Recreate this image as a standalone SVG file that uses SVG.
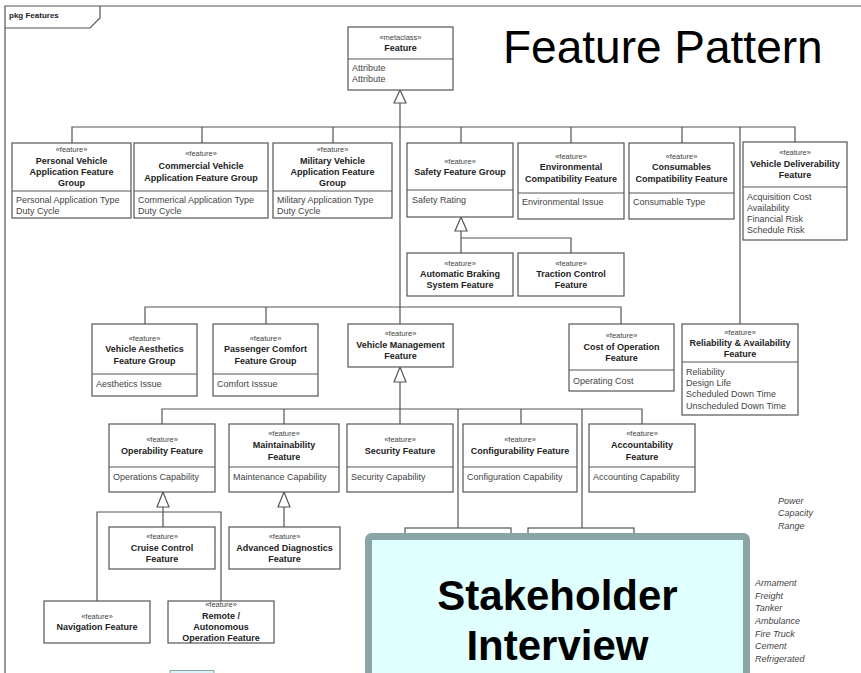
<svg xmlns="http://www.w3.org/2000/svg" width="861" height="673" viewBox="0 0 861 673">
<style>
text{font-family:"Liberation Sans",Arial,sans-serif;fill:#333}
.st{font-size:7.5px;text-anchor:middle;fill:#444}
.ti{font-size:9px;font-weight:bold;text-anchor:middle;fill:#222}
.at{font-size:9px;fill:#444}
.bx{fill:#fff;stroke:#555;stroke-width:1.2}
.dv{stroke:#555;stroke-width:1}
.cn{fill:none;stroke:#555;stroke-width:1.2}
.tri{fill:#fff;stroke:#555;stroke-width:1.2}
.it{font-size:9px;font-style:italic;fill:#444}
</style>
<rect width="861" height="673" fill="#fff"/>
<g id="frame">
<path class="cn" d="M5,673 V6 H861"/>
<path class="cn" d="M5,28 H90 L100,18 V6"/>
<text x="9" y="18" style="font-size:8px;font-weight:bold;fill:#222">pkg Features</text>
</g>
<text x="503" y="63" style="font-size:46px;fill:#000">Feature Pattern</text>
<g id="connectors">
<polygon class="tri" points="400,90 394,103 406,103"/>
<path class="cn" d="M400,103 V324"/>
<path class="cn" d="M72,143 V127 H795 V142 M202,127 V143 M333,127 V143 M461,127 V143 M571,127 V143 M682,127 V143 M740,127 V324"/>
<polygon class="tri" points="461,217 455,231 467,231"/>
<path class="cn" d="M461,231 V253 M461,238 H571 V253"/>
<path class="cn" d="M145,324 V307 H621 V324 M266,307 V324"/>
<polygon class="tri" points="400,367 394,382 406,382"/>
<path class="cn" d="M400,382 V424"/>
<path class="cn" d="M162,424 V409 H642 V424 M284,409 V424 M521,409 V424 M458,409 V528 M582,409 V528"/>
<polygon class="tri" points="163,492 157,507 169,507"/>
<path class="cn" d="M163,507 V527 M97,601 V512 H221 V601"/>
<polygon class="tri" points="284,492 278,507 290,507"/>
<path class="cn" d="M284,507 V527"/>
</g>
<g id="n-feature">
<rect class="bx" x="348" y="27" width="105" height="63"/>
<line class="dv" x1="348" y1="59" x2="453" y2="59"/>
<text class="st" x="400.5" y="40">«metaclass»</text>
<text class="ti" x="400.5" y="51">Feature</text>
<text class="at" x="352" y="71">Attribute</text>
<text class="at" x="352" y="82">Attribute</text>
</g>
<g id="n-personal">
<rect class="bx" x="12" y="143" width="119" height="75"/>
<line class="dv" x1="12" y1="191" x2="131" y2="191"/>
<text class="st" x="71.5" y="151.5">«feature»</text>
<text class="ti" x="71.5" y="164">Personal Vehicle</text>
<text class="ti" x="71.5" y="175">Application Feature</text>
<text class="ti" x="71.5" y="186">Group</text>
<text class="at" x="16" y="203">Personal Application Type</text>
<text class="at" x="16" y="214">Duty Cycle</text>
</g>
<g id="n-commercial">
<rect class="bx" x="134" y="143" width="134" height="75"/>
<line class="dv" x1="134" y1="191" x2="268" y2="191"/>
<text class="st" x="201" y="155.5">«feature»</text>
<text class="ti" x="201" y="169">Commercial Vehicle</text>
<text class="ti" x="201" y="181">Application Feature Group</text>
<text class="at" x="138" y="203">Commerical Application Type</text>
<text class="at" x="138" y="214">Duty Cycle</text>
</g>
<g id="n-military">
<rect class="bx" x="273" y="143" width="119" height="75"/>
<line class="dv" x1="273" y1="191" x2="392" y2="191"/>
<text class="st" x="332.5" y="151.5">«feature»</text>
<text class="ti" x="332.5" y="164">Military Vehicle</text>
<text class="ti" x="332.5" y="175">Application Feature</text>
<text class="ti" x="332.5" y="186">Group</text>
<text class="at" x="277" y="203">Military Application Type</text>
<text class="at" x="277" y="214">Duty Cycle</text>
</g>
<g id="n-safety">
<rect class="bx" x="407" y="143" width="106" height="74"/>
<line class="dv" x1="407" y1="190" x2="513" y2="190"/>
<text class="st" x="460" y="163.5">«feature»</text>
<text class="ti" x="460" y="175">Safety Feature Group</text>
<text class="at" x="412" y="203">Safety Rating</text>
</g>
<g id="n-environmental">
<rect class="bx" x="518" y="143" width="106" height="76"/>
<line class="dv" x1="518" y1="193" x2="624" y2="193"/>
<text class="st" x="571" y="158.5">«feature»</text>
<text class="ti" x="571" y="170">Environmental</text>
<text class="ti" x="571" y="182">Compatibility Feature</text>
<text class="at" x="522" y="205">Environmental Issue</text>
</g>
<g id="n-consumables">
<rect class="bx" x="629" y="143" width="105" height="76"/>
<line class="dv" x1="629" y1="193" x2="734" y2="193"/>
<text class="st" x="681.5" y="158.5">«feature»</text>
<text class="ti" x="681.5" y="170">Consumables</text>
<text class="ti" x="681.5" y="182">Compatibility Feature</text>
<text class="at" x="633" y="205">Consumable Type</text>
</g>
<g id="n-deliverability">
<rect class="bx" x="743" y="142" width="104" height="98"/>
<line class="dv" x1="743" y1="187" x2="847" y2="187"/>
<text class="st" x="795" y="154.5">«feature»</text>
<text class="ti" x="795" y="167">Vehicle Deliverability</text>
<text class="ti" x="795" y="178">Feature</text>
<text class="at" x="747" y="200">Acquisition Cost</text>
<text class="at" x="747" y="211">Availability</text>
<text class="at" x="747" y="222">Financial Risk</text>
<text class="at" x="747" y="233">Schedule Risk</text>
</g>
<g id="n-braking">
<rect class="bx" x="407" y="253" width="106" height="43"/>
<text class="st" x="460" y="265.5">«feature»</text>
<text class="ti" x="460" y="277">Automatic Braking</text>
<text class="ti" x="460" y="288">System Feature</text>
</g>
<g id="n-traction">
<rect class="bx" x="518" y="253" width="106" height="43"/>
<text class="st" x="571" y="265.5">«feature»</text>
<text class="ti" x="571" y="277">Traction Control</text>
<text class="ti" x="571" y="288">Feature</text>
</g>
<g id="n-aesthetics">
<rect class="bx" x="92" y="324" width="105" height="72"/>
<line class="dv" x1="92" y1="374" x2="197" y2="374"/>
<text class="st" x="144.5" y="340.5">«feature»</text>
<text class="ti" x="144.5" y="352">Vehicle Aesthetics</text>
<text class="ti" x="144.5" y="364">Feature Group</text>
<text class="at" x="96" y="387">Aesthetics Issue</text>
</g>
<g id="n-comfort">
<rect class="bx" x="213" y="324" width="105" height="72"/>
<line class="dv" x1="213" y1="374" x2="318" y2="374"/>
<text class="st" x="265.5" y="340.5">«feature»</text>
<text class="ti" x="265.5" y="352">Passenger Comfort</text>
<text class="ti" x="265.5" y="364">Feature Group</text>
<text class="at" x="217" y="387">Comfort Isssue</text>
</g>
<g id="n-management">
<rect class="bx" x="348" y="324" width="105" height="43"/>
<text class="st" x="400.5" y="335.5">«feature»</text>
<text class="ti" x="400.5" y="348">Vehicle Management</text>
<text class="ti" x="400.5" y="359">Feature</text>
</g>
<g id="n-cost">
<rect class="bx" x="569" y="324" width="105" height="67"/>
<line class="dv" x1="569" y1="370" x2="674" y2="370"/>
<text class="st" x="621.5" y="337.5">«feature»</text>
<text class="ti" x="621.5" y="350">Cost of Operation</text>
<text class="ti" x="621.5" y="361">Feature</text>
<text class="at" x="573" y="384">Operating Cost</text>
</g>
<g id="n-reliability">
<rect class="bx" x="682" y="324" width="116" height="91"/>
<line class="dv" x1="682" y1="362" x2="798" y2="362"/>
<text class="st" x="740" y="334.5">«feature»</text>
<text class="ti" x="740" y="346">Reliability &amp; Availability</text>
<text class="ti" x="740" y="357">Feature</text>
<text class="at" x="686" y="375">Reliability</text>
<text class="at" x="686" y="386">Design Life</text>
<text class="at" x="686" y="397">Scheduled Down Time</text>
<text class="at" x="686" y="409">Unscheduled Down Time</text>
</g>
<g id="n-operability">
<rect class="bx" x="109" y="424" width="106" height="68"/>
<line class="dv" x1="109" y1="467" x2="215" y2="467"/>
<text class="st" x="162" y="441.5">«feature»</text>
<text class="ti" x="162" y="454">Operability Feature</text>
<text class="at" x="113" y="480">Operations Capability</text>
</g>
<g id="n-maintainability">
<rect class="bx" x="229" y="424" width="110" height="68"/>
<line class="dv" x1="229" y1="467" x2="339" y2="467"/>
<text class="st" x="284" y="435.5">«feature»</text>
<text class="ti" x="284" y="448">Maintainability</text>
<text class="ti" x="284" y="460">Feature</text>
<text class="at" x="233" y="480">Maintenance Capability</text>
</g>
<g id="n-security">
<rect class="bx" x="347" y="424" width="106" height="68"/>
<line class="dv" x1="347" y1="467" x2="453" y2="467"/>
<text class="st" x="400" y="441.5">«feature»</text>
<text class="ti" x="400" y="454">Security Feature</text>
<text class="at" x="351" y="480">Security Capability</text>
</g>
<g id="n-configurability">
<rect class="bx" x="463" y="424" width="114" height="68"/>
<line class="dv" x1="463" y1="467" x2="577" y2="467"/>
<text class="st" x="520" y="441.5">«feature»</text>
<text class="ti" x="520" y="454">Configurability Feature</text>
<text class="at" x="467" y="480">Configuration Capability</text>
</g>
<g id="n-accountability">
<rect class="bx" x="589" y="424" width="106" height="68"/>
<line class="dv" x1="589" y1="467" x2="695" y2="467"/>
<text class="st" x="642" y="435.5">«feature»</text>
<text class="ti" x="642" y="448">Accountability</text>
<text class="ti" x="642" y="460">Feature</text>
<text class="at" x="593" y="480">Accounting Capability</text>
</g>
<g id="n-cruise">
<rect class="bx" x="109" y="527" width="106" height="42"/>
<text class="st" x="162" y="538.5">«feature»</text>
<text class="ti" x="162" y="551">Cruise Control</text>
<text class="ti" x="162" y="562">Feature</text>
</g>
<g id="n-diagnostics">
<rect class="bx" x="229" y="527" width="111" height="42"/>
<text class="st" x="284.5" y="538.5">«feature»</text>
<text class="ti" x="284.5" y="551">Advanced Diagnostics</text>
<text class="ti" x="284.5" y="562">Feature</text>
</g>
<g id="n-navigation">
<rect class="bx" x="44" y="601" width="106" height="42"/>
<text class="st" x="97" y="618.5">«feature»</text>
<text class="ti" x="97" y="630">Navigation Feature</text>
</g>
<g id="n-remote">
<rect class="bx" x="168" y="601" width="106" height="42"/>
<text class="st" x="221" y="607">«feature»</text>
<text class="ti" x="221" y="619">Remote /</text>
<text class="ti" x="221" y="630">Autonomous</text>
<text class="ti" x="221" y="641">Operation Feature</text>
</g>
<g id="n-hidden1"><rect class="bx" x="405" y="528" width="106" height="60"/></g>
<g id="n-hidden2"><rect class="bx" x="528" y="528" width="106" height="60"/></g>
<rect x="170" y="670.5" width="44" height="4" fill="#d8f4f8" stroke="#8ba5a7" stroke-width="1"/>
<g id="labels">
<text class="it" x="778" y="504">Power</text>
<text class="it" x="778" y="516">Capacity</text>
<text class="it" x="778" y="529">Range</text>
<text class="it" x="755" y="586">Armament</text>
<text class="it" x="755" y="599">Freight</text>
<text class="it" x="755" y="611">Tanker</text>
<text class="it" x="755" y="624">Ambulance</text>
<text class="it" x="755" y="637">Fire Truck</text>
<text class="it" x="755" y="649">Cement</text>
<text class="it" x="755" y="662">Refrigerated</text>
</g>
<g id="n-stakeholder">
<rect x="368.5" y="536.5" width="378" height="150" rx="3" fill="#e0ffff" stroke="#8ba5a7" stroke-width="7"/>
<text x="557.5" y="610" style="font-size:42px;font-weight:bold;text-anchor:middle;fill:#000">Stakeholder</text>
<text x="557.5" y="660" style="font-size:42px;font-weight:bold;text-anchor:middle;fill:#000">Interview</text>
</g>
</svg>
